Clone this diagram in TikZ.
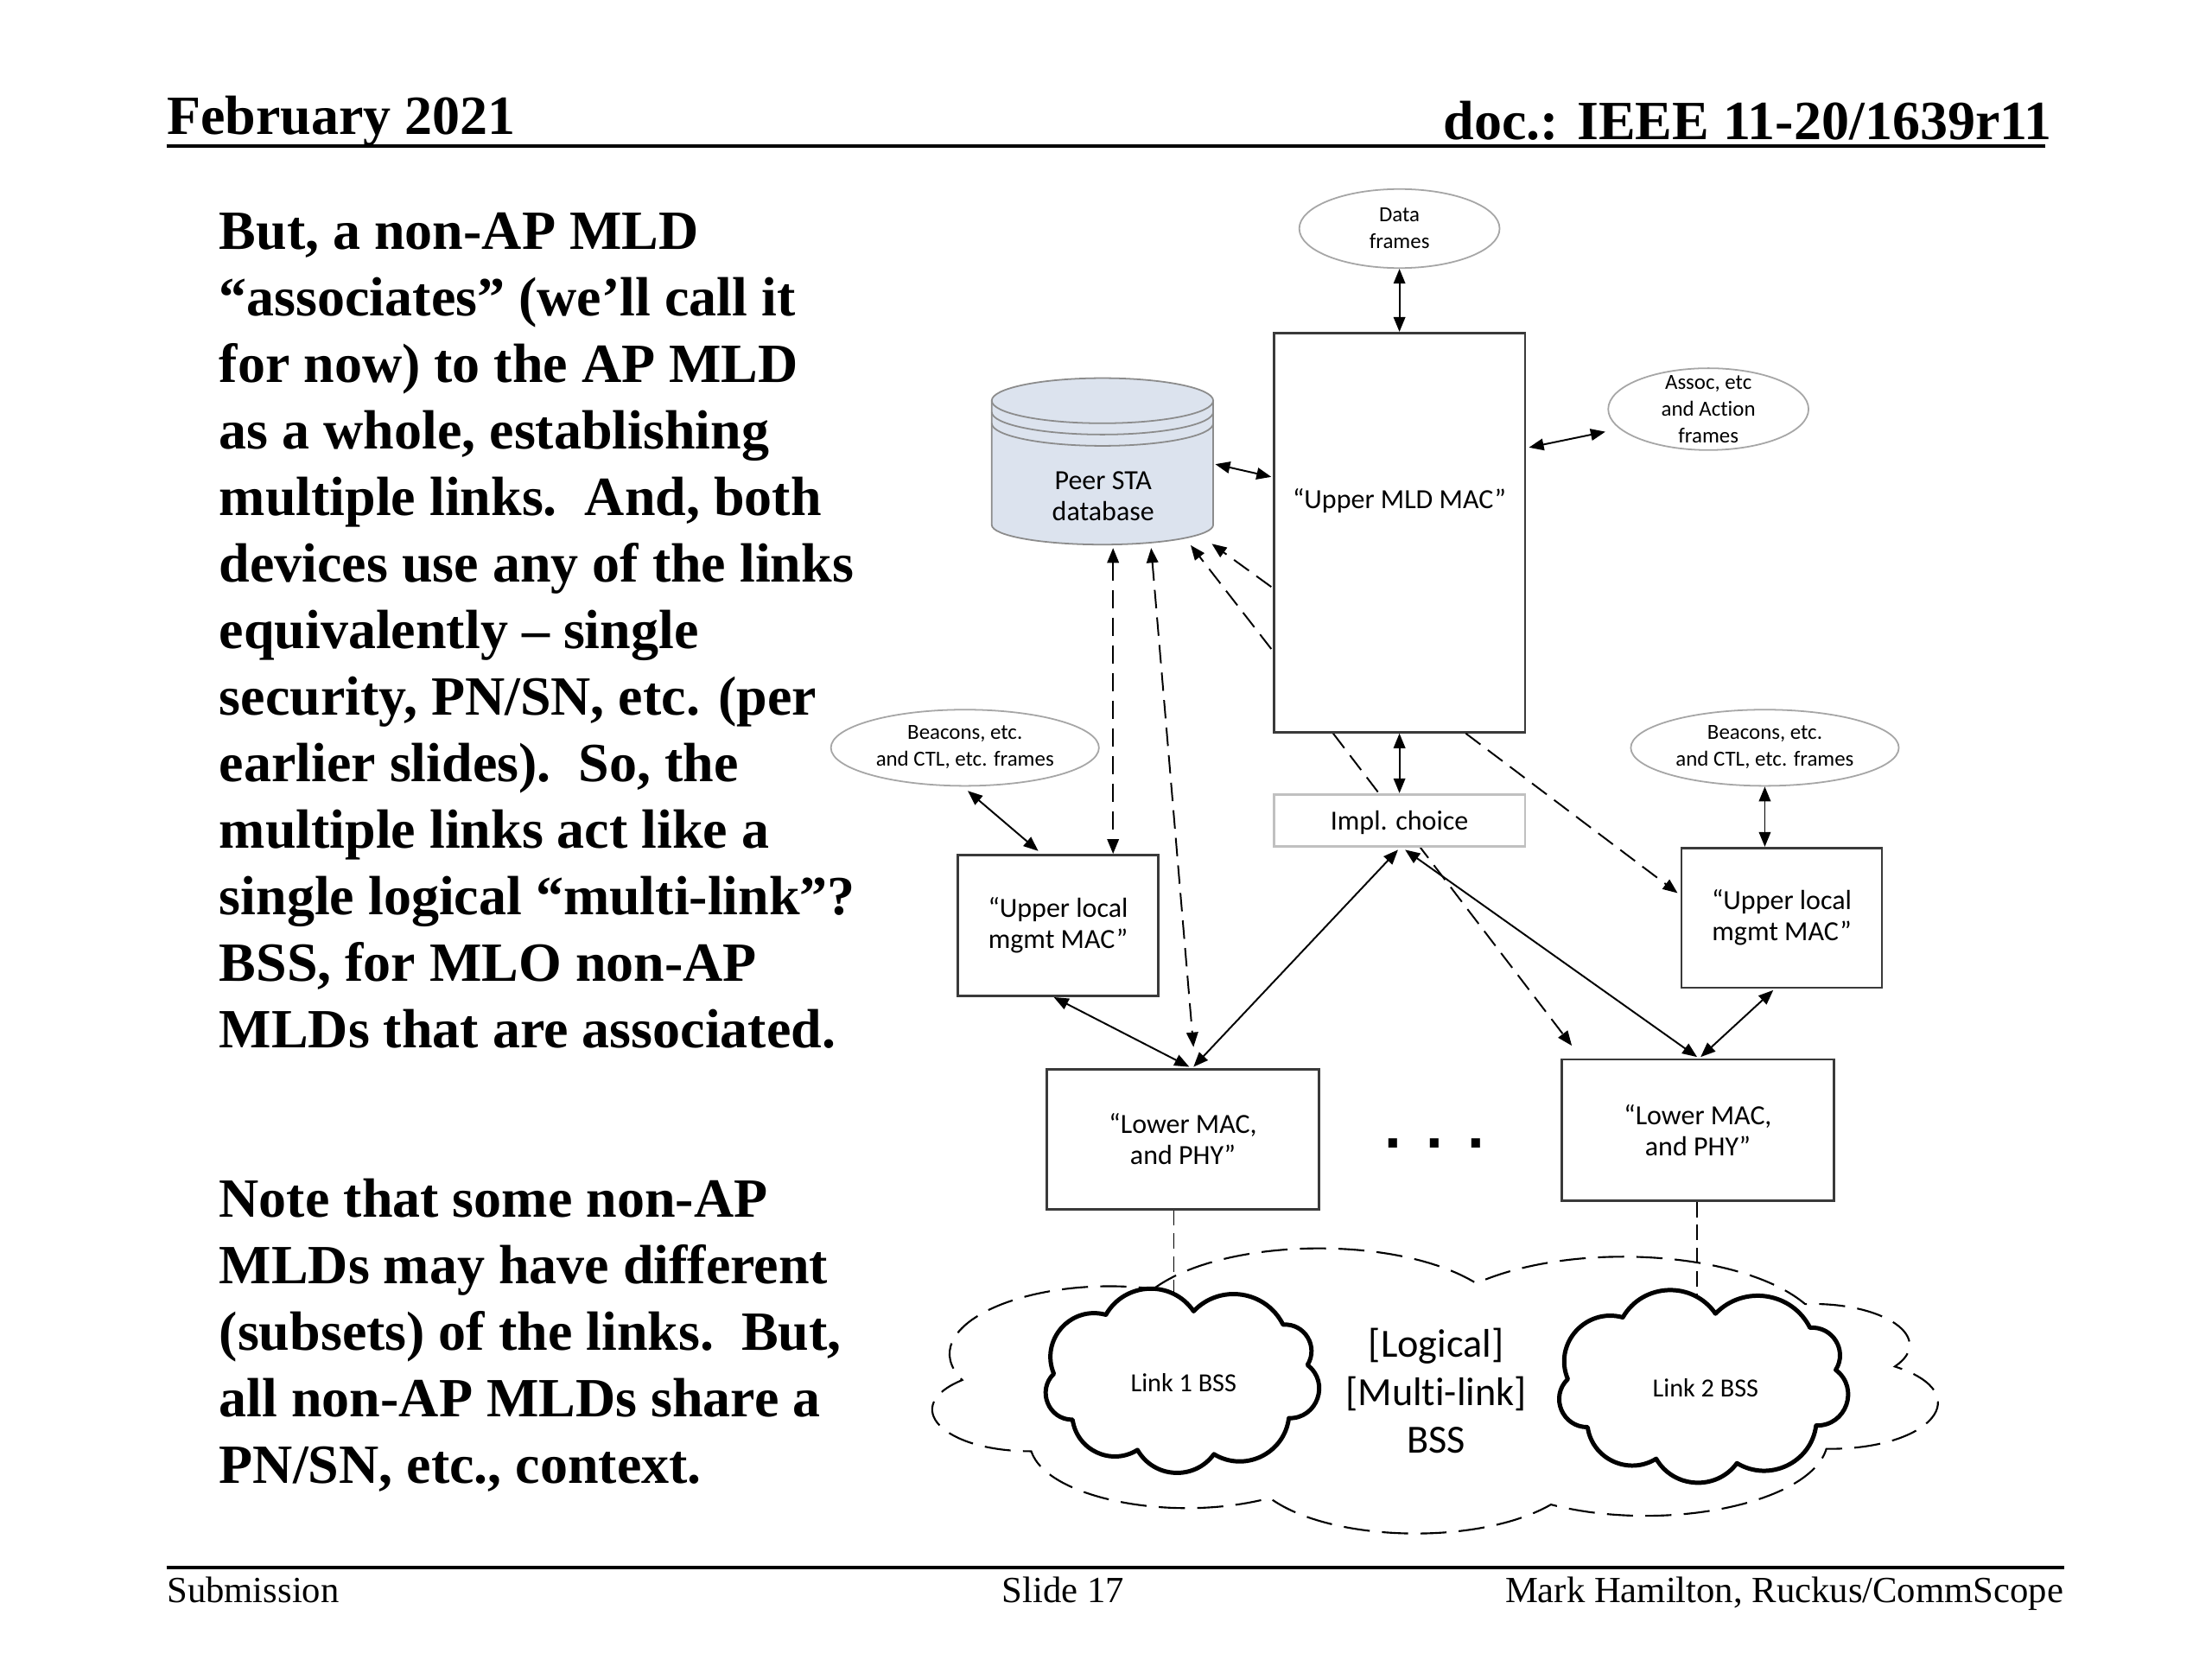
\documentclass[tikz,border=0pt]{standalone}
\usepackage{fontspec}
\setmainfont{Liberation Serif}
\newfontfamily\carl[Ligatures=NoCommon]{Carlito}
\newfontfamily\djv{DejaVu Sans}
\usetikzlibrary{shapes.geometric,arrows.meta,calc}
\pgfdeclarelayer{bglayer}
\pgfsetlayers{bglayer,main}
\newcommand\upx{0.4592pt}
\definecolor{ellgray}{HTML}{A6A6A6}
\definecolor{implgray}{HTML}{C0C0C0}
\definecolor{dbfill}{HTML}{DCE3EE}
\definecolor{dbline}{HTML}{8C8C8C}
\definecolor{boxline}{HTML}{3A3A3A}
\tikzset{tipA/.tip={Triangle[length=4.8pt,width=3.8pt]}}
% cloud outline in a box: #1 style, (#2,#3) top left, #4 x #5 size
\newcommand\vcloud[5]{%
\begin{scope}[shift={(#2,#3)}, xscale={#4/100}, yscale={#5/100}]
\draw[#1] (22.0,14.1) .. controls (28.89,-3.95) and (46.06,-4.98) .. (53.9,12.18)
 .. controls (63.49,-2.90) and (80.20,0.84) .. (86.41,19.46)
 .. controls (94.25,18.61) and (99.43,31.40) .. (95.28,41.38)
 .. controls (103.58,50.83) and (98.94,70.62) .. (88.51,70.27)
 .. controls (86.85,89.59) and (72.42,99.94) .. (61.28,89.81)
 .. controls (54.19,104.30) and (39.46,103.08) .. (33.49,87.51)
 .. controls (23.97,96.41) and (11.47,87.72) .. (9.90,71.11)
 .. controls (1.14,71.16) and (-3.20,55.25) .. (3.08,46.13)
 .. controls (-2.01,27.84) and (9.22,8.83) .. cycle;
\end{scope}}
\begin{document}
\begin{tikzpicture}[x=0.4592pt,y=-0.4592pt,
  sz/.style 2 args={minimum width={#1*\upx},minimum height={#2*\upx}},
  box/.style={draw=boxline, line width=0.75pt, fill=white, rectangle, inner sep=0, align=center, font=\carl\fontsize{9}{10.1}\selectfont},
  ell/.style={draw=ellgray, line width=0.5pt, ellipse, inner sep=0},
  lbl/.style={inner sep=0, align=center, font=\carl\fontsize{9}{10.1}\selectfont},
  slbl/.style={inner sep=0, align=center, font=\carl\fontsize{7}{8.7}\selectfont},
  bodyline/.style={anchor=base west, inner sep=0, font=\bfseries\fontsize{18}{21.7}\selectfont},
  hdr/.style={inner sep=0, font=\bfseries\fontsize{18}{21.7}\selectfont},
  ftr/.style={inner sep=0, font=\fontsize{12}{14}\selectfont},
  conn/.style={line width=0.55pt, black},
  dbl/.style={conn, tipA-tipA},
  sgl/.style={conn, -tipA},
  dsh/.style={dash pattern=on 6pt off 3pt},
  thindsh/.style={line width=0.5pt, dash pattern=on 5pt off 2.5pt},
  bigcloud/.style={draw=black, line width=0.6pt, dash pattern=on 8.5pt off 4pt},
  smallcloud/.style={draw=black, fill=white, line width=1.4pt, line join=round}
]
\begin{pgfonlayer}{bglayer}
\fill[white] (0,0) rectangle (1568,1176);
\end{pgfonlayer}
\useasboundingbox (0,0) rectangle (1568,1176);

% ---------- header / footer ----------
\node[hdr, anchor=base west] (date) at (118,95) {February 2021};
\node[hdr, anchor=base east] (doc) at (1455,99) {doc.: IEEE 11-20/1639r11};
\coordinate (hl) at (118,103.5);
\coordinate (hr) at (1450,103.5);
\draw[line width=1.2pt] (hl) -- (hr);
\coordinate (fl) at (118,1111);
\coordinate (fr) at (1463,1111);
\draw[line width=1.2pt] (fl) -- (fr);
\node[ftr, anchor=base west] (sub) at (118,1136) {Submission};
\node[ftr, anchor=base] (slide) at (753.5,1136) {Slide 17};
\node[ftr, anchor=base east] (auth) at (1463,1136) {Mark Hamilton, Ruckus/CommScope};

% ---------- body text ----------
\foreach \t [count=\i] in {{But, a non-AP MLD},{“associates” (we’ll call it},{for now) to the AP MLD},{as a whole, establishing},{multiple links.\ \ And, both},{devices use any of the links},{equivalently – single},{security, PN/SN, etc. (per},{earlier slides).\ \ So, the},{multiple links act like a},{single logical “multi-link”?},{BSS, for MLO non-AP},{MLDs that are associated.}}
  \node[bodyline] (pa\i) at (155,{176.5+(\i-1)*47.2}) {\t};
\foreach \t [count=\i] in {{Note that some non-AP},{MLDs may have different},{(subsets) of the links.\ \ But,},{all non-AP MLDs share a},{PN/SN, etc., context.}}
  \node[bodyline] (pb\i) at (155,{862.5+(\i-1)*47.2}) {\t};

% ---------- ellipses ----------
\node[ell, sz={142}{56}] (data) at (992,162) {};
\node[slbl] (dataT) at (992,161.5) {Data\\frames};
\node[ell, sz={142}{58}] (assoc) at (1211,290) {};
\node[slbl] (assocT) at (1211,290) {Assoc, etc\\and Action\\frames};
\node[ell, sz={190}{54}] (beacL) at (684,530) {};
\node[slbl] (beacLT) at (684,529.5) {Beacons, etc.\\and CTL, etc. frames};
\node[ell, sz={190}{54}] (beacR) at (1251,530) {};
\node[slbl] (beacRT) at (1251,529.5) {Beacons, etc.\\and CTL, etc. frames};

% ---------- Peer STA database (cylinder) ----------
\fill[dbfill] (703,284) -- (703,372) arc[start angle=180,end angle=0,x radius=78.5,y radius=14] -- (860,284) -- cycle;
\fill[dbfill] (781.5,284) ellipse[x radius=78.5,y radius=16];
\draw[dbline, line width=0.5pt] (703,284) -- (703,372) arc[start angle=180,end angle=0,x radius=78.5,y radius=14] -- (860,284);
\draw[dbline, line width=0.5pt] (781.5,284) ellipse[x radius=78.5,y radius=16];
\draw[dbline, line width=0.5pt] (703,292) arc[start angle=180,end angle=0,x radius=78.5,y radius=16];
\draw[dbline, line width=0.5pt] (703,300) arc[start angle=180,end angle=0,x radius=78.5,y radius=16];
\node[inner sep=0, sz={157}{118}] (peer) at (781.5,327) {};
\node[lbl] (peerT) at (782,351.5) {Peer STA\\database};

% ---------- boxes ----------
\node[box, sz={178}{283}] (upper) at (992,377.5) {};
\node[lbl] (upperT) at (992,355) {“Upper MLD MAC”};
\node[box, sz={142}{100}] (ulL) at (750,656) {“Upper local\\mgmt MAC”};
\node[box, sz={142}{99}] (ulR) at (1263,650.5) {“Upper local\\mgmt MAC”};
\node[box, sz={193}{99}] (lowL) at (838.5,807.5) {“Lower MAC,\\and PHY”};
\node[box, sz={193}{100}] (lowR) at (1203.5,801) {“Lower MAC,\\and PHY”};
\node[inner sep=0, font=\djv\bfseries\fontsize{16}{16}\selectfont] (dots) at (1017,810.5) {. . .};

% ---------- clouds ----------
\vcloud{bigcloud}{660}{885}{717}{202}
\vcloud{smallcloud}{741}{913.5}{195}{130.5}
\vcloud{smallcloud}{1105}{914.5}{206}{136.5}
\node[inner sep=0, align=center, font=\carl\fontsize{13}{15.6}\selectfont] (multi) at (1018,986) {[Logical]\\{}[Multi-link]\\BSS};
\node[inner sep=0, font=\carl\fontsize{8.5}{10}\selectfont] (link1) at (839,980) {Link 1 BSS};
\node[inner sep=0, font=\carl\fontsize{8.5}{10}\selectfont] (link2) at (1209,983.5) {Link 2 BSS};

% ---------- connectors behind nodes ----------
\begin{pgfonlayer}{bglayer}
\coordinate (lowRin) at ($(lowR.north west)+(8,-9)$);
\draw[sgl, dsh] ($(upper.south)+(-47,0)$) -- (lowRin);
\coordinate (l1top) at ($(lowL.south)+(-6.5,80)$);
\draw[thindsh] ($(lowL.south)+(-6.5,0)$) -- (l1top);
\coordinate (l2top) at ($(lowR.south)+(-0.5,85)$);
\draw[thindsh] ($(lowR.south)+(-0.5,0)$) -- (l2top);
\end{pgfonlayer}
\node[box, draw=implgray, sz={178}{37}] (impl) at (992,581.5) {};
\node[lbl] (implT) at (992,583) {Impl. choice};

% ---------- connectors ----------
\draw[dbl] (data.south) -- (upper.north);
\draw[dbl] ($(upper.north east)+(2,82)$) -- ($(assoc.center)+(-73,16)$);
\draw[dbl] ($(peer.east)+(1,2)$) -- ($(upper.west)+(-1,-39.5)$);
\draw[dbl, dsh] ($(peer.south)+(7.5,2)$) -- ($(ulL.north)+(39,0)$);
\draw[dbl, dsh] ($(peer.south)+(34.5,2)$) -- ($(lowL.north)+(7.5,-15)$);
\draw[sgl, dsh] ($(upper.west)+(-1,82.5)$) -- ($(peer.south)+(62.5,0)$);
\draw[sgl, dsh] ($(upper.west)+(-1,38.5)$) -- ($(peer.south)+(77.5,-1)$);
\draw[dbl] (upper.south) -- (impl.north);
\draw[sgl, dsh] ($(upper.south)+(47,0)$) -- ($(ulR.west)+(-2,-17.5)$);
\draw[dbl] ($(impl.south)+(-1,1.5)$) -- ($(lowL.north)+(7.5,-1)$);
\draw[dbl] ($(impl.south)+(4,1.5)$) -- ($(lowR.north)+(-0.5,-1)$);
\draw[dbl] ($(beacL.south)+(2,3)$) -- ($(ulL.north)+(-14,-2)$);
\draw[dbl] ($(ulL.south)+(-3,0)$) -- ($(lowL.north)+(4.5,-1)$);
\draw[dbl] (beacR.south) -- ($(ulR.north)+(-12,0)$);
\draw[dbl] ($(ulR.south)+(-6,1)$) -- ($(lowR.north)+(2,-1)$);
\end{tikzpicture}
\end{document}
